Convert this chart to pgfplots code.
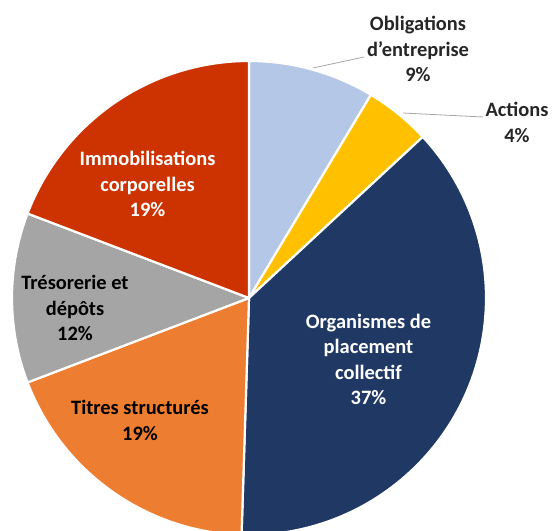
\documentclass[border=0pt]{standalone}
\usepackage{pgfplots}
\pgfplotsset{compat=1.18}
\usepackage{pgfplotstable}
\usepackage{fontspec}
\setmainfont{Carlito}
\definecolor{oblig}{HTML}{B4C7E7}
\definecolor{actions}{HTML}{FFC000}
\definecolor{opc}{HTML}{203864}
\definecolor{titres}{HTML}{ED7D31}
\definecolor{treso}{HTML}{A5A5A5}
\definecolor{immo}{HTML}{CC3300}
\colorlet{slice0}{oblig}
\colorlet{slice1}{actions}
\colorlet{slice2}{opc}
\colorlet{slice3}{titres}
\colorlet{slice4}{treso}
\colorlet{slice5}{immo}

% shares in percent, clockwise from 12 o'clock
\pgfplotstableread{
label value
Obligations 8.6
Actions 4.5
OPC 37.4
Titres 18.7
Tresorerie 11.6
Immobilisations 19.2
}\piedata

\begin{document}
\begin{tikzpicture}
  % cumulative angles of the slices
  \gdef\cum{90}
  \foreach \i in {0,...,5}{
    \pgfplotstablegetelem{\i}{value}\of\piedata
    \pgfmathsetmacro\a{\cum}
    \pgfmathsetmacro\b{\cum-3.6*\pgfplotsretval}
    \expandafter\xdef\csname sa\i\endcsname{\a}
    \expandafter\xdef\csname ea\i\endcsname{\b}
    \xdef\cum{\b}
  }
  \begin{axis}[
    scale only axis,
    width=552bp, height=531bp,
    xmin=0, xmax=552, ymin=0, ymax=531,
    hide axis,
    clip=true,
  ]
    \pgfplotsinvokeforeach{0,...,5}{
      \fill[slice#1, draw=white, line width=2.2bp, line join=round]
        (axis cs:249,233) -- ([shift={(\csname sa#1\endcsname:237bp)}]axis cs:249,233)
        arc[start angle=\csname sa#1\endcsname, end angle=\csname ea#1\endcsname, radius=237bp]
        -- cycle;
    }
    \draw[gray!70, line width=0.8bp] (axis cs:313,463) -- (axis cs:364,474);
    \draw[gray!70, line width=0.8bp] (axis cs:403,418) -- (axis cs:483,414);
    \tikzset{lbl/.style={align=center, font=\fontsize{20.5}{25.5}\selectfont\bfseries, inner sep=0pt}}
    \node[lbl, white] at (axis cs:147.5,347) {Immobilisations\\corporelles\\19\%};
    \node[lbl, black] at (axis cs:75,223) {Trésorerie et\\dépôts\\12\%};
    \node[lbl, black] at (axis cs:140,110.5) {Titres structurés\\19\%};
    \node[lbl, white] at (axis cs:368.5,171.5) {Organismes de\\placement\\collectif\\37\%};
    \node[lbl, black!85] at (axis cs:418,482) {Obligations\\d’entreprise\\9\%};
    \node[lbl, black!85] at (axis cs:517,408.5) {Actions\\4\%};
  \end{axis}
  \pgfresetboundingbox
  \useasboundingbox (current axis.south west) rectangle (current axis.north east);
\end{tikzpicture}
\end{document}
